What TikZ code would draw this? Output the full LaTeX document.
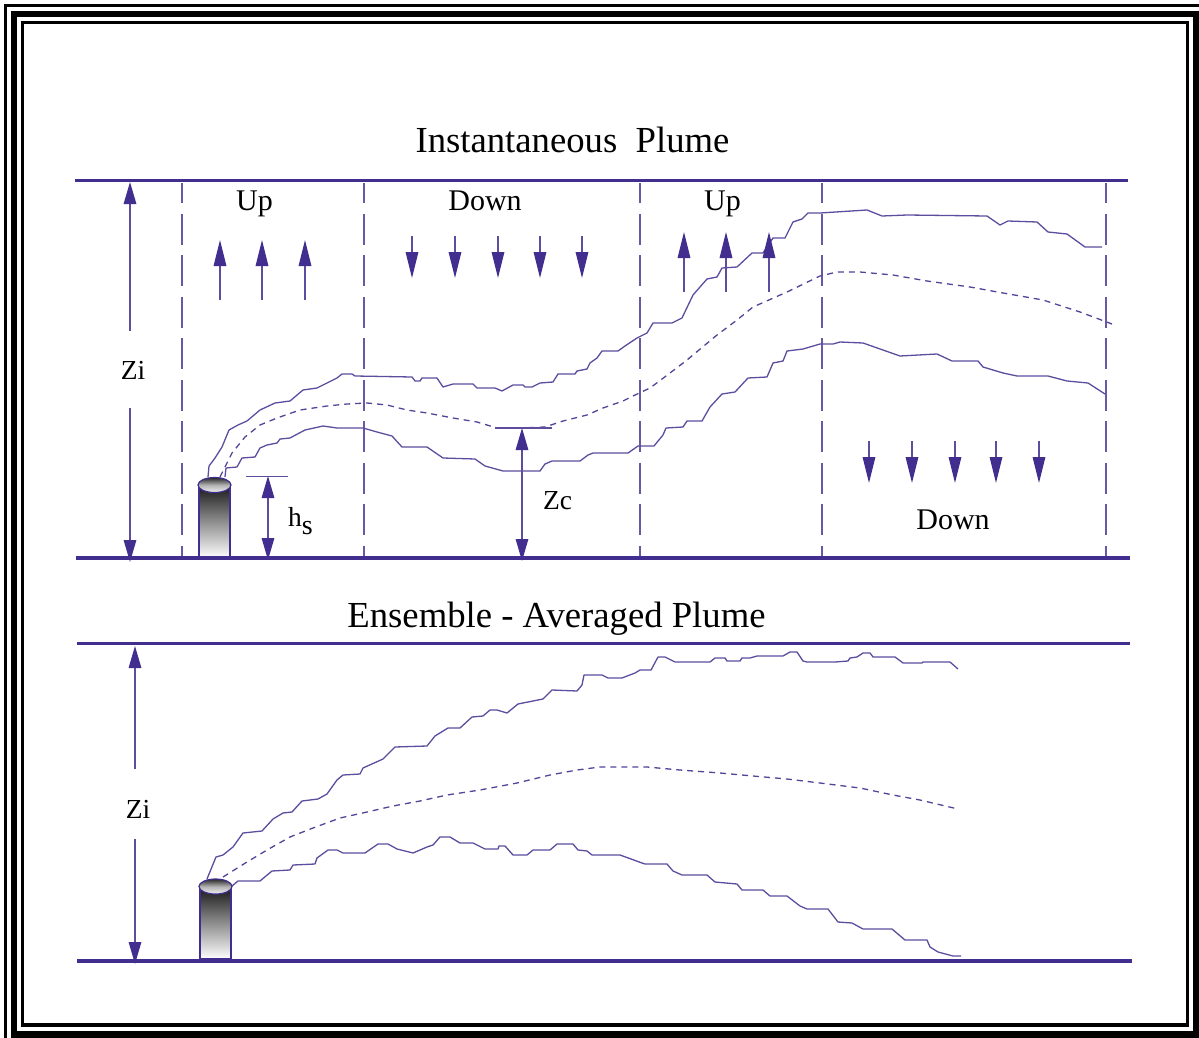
\documentclass[tikz,border=0pt]{standalone}
\usepackage{fontspec}
\setmainfont{Liberation Serif}
\usepackage{tikz}
\usetikzlibrary{arrows.meta,shapes.geometric}
\definecolor{plume}{RGB}{66,46,142}
\tikzset{
    frameline/.style={draw=black,line cap=butt},
    ground/.style={draw=plume,line width=4pt},
    ceiling/.style={draw=plume,line width=2.4pt},
    cell/.style={draw=plume!80,line width=1.4pt,dash pattern=on 31pt off 10.5pt,dash phase=11pt},
    edgeline/.style={draw=plume!85,line width=1.3pt,line join=round},
    midline/.style={draw=plume!90,line width=1.3pt,dash pattern=on 6pt off 5pt,line join=round},
    tick/.style={draw=plume!85,line width=1.2pt},
    windarrow/.style={draw=plume!85,line width=1.4pt,-{Triangle[width=12.5pt,length=26pt,color=plume]}},
    sizearrow/.style={draw=plume!85,line width=1.4pt,-{Triangle[width=12.5pt,length=22pt,color=plume]}},
    bothways/.style={draw=plume!85,line width=1.4pt,{Triangle[width=12.5pt,length=22pt,color=plume]}-{Triangle[width=12.5pt,length=22pt,color=plume]}},
    title/.style={font=\fontsize{36.7}{40}\selectfont,anchor=base,inner sep=0pt},
    word/.style={font=\fontsize{30}{34}\selectfont,anchor=base,inner sep=0pt},
    size/.style={font=\fontsize{27.5}{30}\selectfont,anchor=base,inner sep=0pt},
    stackbody/.style={draw=plume,line width=1.2pt,top color=black!92,bottom color=white,middle color=black!45},
    stacktop/.style={draw=plume,line width=1.2pt,top color=black!85,bottom color=black!5,middle color=black!30}
}

\begin{document}
\begin{tikzpicture}[x=1pt,y=-1pt]
        \useasboundingbox (0,0) rectangle (1199,1038);
        \fill[white] (0,0) rectangle (1199,1038);

        % frame
        \draw[frameline,line width=3pt] (5.5,1038) -- (5.5,5.5) -- (1199,5.5);
        \draw[frameline,line width=6.5pt] (14,1034.5) -- (14,14) -- (1196,14) -- (1196,1034.5) -- cycle;
        \draw[frameline,line width=3.4pt] (22.5,1025) -- (22.5,22.5) -- (1187.7,22.5) -- (1187.7,1025) -- cycle;

        % titles
        \node[title] (inst) at (572.5,153) {Instantaneous\ \ Plume};
        \node[title] (ens) at (556.5,627) {Ensemble - Averaged Plume};

        % upper panel
        \coordinate (c1a) at (182,183);
        \coordinate (c1b) at (182,557);
        \coordinate (c2a) at (364,183);
        \coordinate (c2b) at (364,557);
        \coordinate (c3a) at (640,183);
        \coordinate (c3b) at (640,557);
        \coordinate (c4a) at (822,183);
        \coordinate (c4b) at (822,557);
        \coordinate (c5a) at (1106,183);
        \coordinate (c5b) at (1106,557);
        \draw[cell] (c1a) -- (c1b);
        \draw[cell] (c2a) -- (c2b);
        \draw[cell] (c3a) -- (c3b);
        \draw[cell] (c4a) -- (c4b);
        \draw[cell] (c5a) -- (c5b);

        \draw[edgeline] (208,477) -- (209,466) -- (215,458) -- (222,447) -- (229,430) -- (238,425) -- (247,421) -- (260,410) -- (275,403) -- (290,401) -- (303,390) -- (317,388) -- (337,378) -- (342,374) -- (352,374) -- (355,376) -- (412,377) -- (415,381) -- (420,381) -- (422,378) -- (437,378) -- (443,387) -- (453,384) -- (473,384) -- (477,388) -- (495,388) -- (502,391) -- (513,385) -- (523,385) -- (525,387) -- (532,387) -- (540,383) -- (553,382) -- (558,374) -- (575,374) -- (577,371) -- (587,369) -- (590,363) -- (597,358) -- (602,351) -- (618,351) -- (625,346) -- (637,338) -- (647,333) -- (653,323) -- (672,323) -- (682,318) -- (693,295) -- (707,279) -- (717,277) -- (722,268) -- (737,267) -- (752,253) -- (763,253) -- (773,238) -- (785,238) -- (793,222) -- (802,219) -- (808,213) -- (820,213) -- (867,210) -- (882,216) -- (907,215) -- (987,216) -- (1000,225) -- (1008,221) -- (1037,222) -- (1048,232) -- (1067,234) -- (1085,247) -- (1102,247);
        \draw[midline] (220,477) -- (225,467) -- (232,453) -- (245,437) -- (260,425) -- (277,418) -- (300,410) -- (327,406) -- (347,404) -- (367,403) -- (387,405) -- (407,410) -- (427,413) -- (453,418) -- (477,422) -- (497,428) -- (520,428) -- (545,427) -- (563,421) -- (587,415) -- (603,408) -- (623,401) -- (633,396) -- (650,388) -- (670,373) -- (687,360) -- (717,335) -- (737,320) -- (753,307) -- (787,292) -- (820,276) -- (837,272) -- (860,272) -- (893,275) -- (927,281) -- (970,287) -- (1003,293) -- (1043,300) -- (1080,312) -- (1112,324);
        \draw[edgeline] (225,477) -- (226,468) -- (237,467) -- (242,458) -- (255,457) -- (260,448) -- (267,445) -- (277,443) -- (280,439) -- (290,438) -- (305,430) -- (323,426) -- (337,428) -- (363,428) -- (377,432) -- (392,436) -- (402,447) -- (427,447) -- (443,458) -- (475,459) -- (485,466) -- (503,471) -- (540,471) -- (545,464) -- (552,461) -- (580,461) -- (588,455) -- (593,453) -- (628,453) -- (638,446) -- (654,446) -- (663,435) -- (666,428) -- (683,427) -- (687,421) -- (702,421) -- (710,407) -- (722,394) -- (735,392) -- (748,378) -- (767,377) -- (773,363) -- (783,361) -- (787,351) -- (803,349) -- (820,344) -- (833,344) -- (840,342) -- (863,343) -- (900,356) -- (937,354) -- (952,361) -- (978,361) -- (983,367) -- (1003,373) -- (1017,376) -- (1048,376) -- (1067,381) -- (1088,383) -- (1105,394);

        % upper stack
        \node[stackbody,inner sep=0pt,minimum width=31pt,minimum height=74pt] (stack1) at (214.5,521) {};
        \node[stacktop,ellipse,inner sep=0pt,minimum width=33pt,minimum height=15pt] (rim1) at (214.5,485) {};

        \draw[ceiling] (75,180.5) -- (1128,180.5);
        \draw[ground] (76,558) -- (1130,558);

        % up and down cells
        \node[word] (up1) at (254.5,210) {Up};
        \node[word] (down1) at (485,210) {Down};
        \node[word] (up2) at (722.5,210) {Up};
        \node[word] (down2) at (953,529) {Down};
        \coordinate (ua1) at (220,300);
        \coordinate (ub1) at (220,240);
        \coordinate (ua2) at (262,300);
        \coordinate (ub2) at (262,240);
        \coordinate (ua3) at (305,300);
        \coordinate (ub3) at (305,240);
        \draw[windarrow] (ua1) -- (ub1);
        \draw[windarrow] (ua2) -- (ub2);
        \draw[windarrow] (ua3) -- (ub3);
        \coordinate (da1) at (412,236);
        \coordinate (db1) at (412,278);
        \coordinate (da2) at (455,236);
        \coordinate (db2) at (455,278);
        \coordinate (da3) at (498,236);
        \coordinate (db3) at (498,278);
        \coordinate (da4) at (540,236);
        \coordinate (db4) at (540,278);
        \coordinate (da5) at (582,236);
        \coordinate (db5) at (582,278);
        \draw[windarrow] (da1) -- (db1);
        \draw[windarrow] (da2) -- (db2);
        \draw[windarrow] (da3) -- (db3);
        \draw[windarrow] (da4) -- (db4);
        \draw[windarrow] (da5) -- (db5);
        \coordinate (ua4) at (684,292);
        \coordinate (ub4) at (684,232);
        \coordinate (ua5) at (726,292);
        \coordinate (ub5) at (726,232);
        \coordinate (ua6) at (769,292);
        \coordinate (ub6) at (769,232);
        \draw[windarrow] (ua4) -- (ub4);
        \draw[windarrow] (ua5) -- (ub5);
        \draw[windarrow] (ua6) -- (ub6);
        \coordinate (da6) at (869,441);
        \coordinate (db6) at (869,483);
        \coordinate (da7) at (912,441);
        \coordinate (db7) at (912,483);
        \coordinate (da8) at (955,441);
        \coordinate (db8) at (955,483);
        \coordinate (da9) at (996,441);
        \coordinate (db9) at (996,483);
        \coordinate (da10) at (1039,441);
        \coordinate (db10) at (1039,483);
        \draw[windarrow] (da6) -- (db6);
        \draw[windarrow] (da7) -- (db7);
        \draw[windarrow] (da8) -- (db8);
        \draw[windarrow] (da9) -- (db9);
        \draw[windarrow] (da10) -- (db10);

        % heights
        \node[size] (zi1) at (133,379) {Zi};
        \coordinate (zi1a) at (130,331);
        \coordinate (zi1b) at (130,182);
        \coordinate (zi1c) at (130,408);
        \coordinate (zi1d) at (130,562);
        \draw[sizearrow] (zi1a) -- (zi1b);
        \draw[sizearrow] (zi1c) -- (zi1d);
        \node[size] (hs) at (300.5,526) {h\raisebox{-8pt}{\fontsize{28}{30}\selectfont s}};
        \coordinate (hsa) at (246,476.5);
        \coordinate (hsb) at (288,476.5);
        \coordinate (hsc) at (268,476);
        \coordinate (hsd) at (268,560);
        \draw[tick] (hsa) -- (hsb);
        \draw[bothways] (hsc) -- (hsd);
        \node[size] (zc) at (557.5,509) {Zc};
        \coordinate (zca) at (495,428);
        \coordinate (zcb) at (552,428);
        \coordinate (zcc) at (522,428);
        \coordinate (zcd) at (522,561);
        \draw[tick] (zca) -- (zcb);
        \draw[bothways] (zcc) -- (zcd);

        % lower panel
        \draw[edgeline] (207,879) -- (216,857) -- (223,855) -- (233,847) -- (243,833) -- (262,831) -- (273,819) -- (283,813) -- (292,812) -- (302,801) -- (318,799) -- (327,794) -- (337,780) -- (343,775) -- (360,774) -- (363,768) -- (383,759) -- (395,747) -- (427,746) -- (435,736) -- (448,728) -- (460,728) -- (472,717) -- (483,716) -- (490,710) -- (497,710) -- (507,713) -- (518,704) -- (543,699) -- (552,690) -- (577,691) -- (582,685) -- (584,675) -- (602,675) -- (608,678) -- (622,678) -- (635,673) -- (640,670) -- (651,670) -- (658,657) -- (665,657) -- (675,662) -- (710,662) -- (715,658) -- (725,658) -- (727,661) -- (740,661) -- (742,658) -- (750,658) -- (757,656) -- (783,656) -- (790,652) -- (797,652) -- (803,661) -- (807,662) -- (835,662) -- (848,661) -- (850,658) -- (857,657) -- (863,653) -- (870,653) -- (873,657) -- (895,657) -- (903,663) -- (922,663) -- (923,662) -- (950,662) -- (958,669);
        \draw[midline] (223,877) -- (247,862) -- (267,850) -- (290,837) -- (313,828) -- (340,818) -- (367,812) -- (393,806) -- (420,801) -- (447,795) -- (480,790) -- (517,783) -- (550,775) -- (577,770) -- (600,767) -- (647,767) -- (680,770) -- (720,773) -- (753,776) -- (787,779) -- (820,783) -- (860,788) -- (893,795) -- (920,800) -- (958,809);
        \draw[edgeline] (232,886) -- (238,881) -- (260,881) -- (272,871) -- (290,870) -- (293,865) -- (315,864) -- (317,858) -- (328,850) -- (337,850) -- (343,853) -- (365,853) -- (378,844) -- (388,844) -- (397,849) -- (413,853) -- (427,847) -- (433,845) -- (440,837) -- (450,837) -- (460,843) -- (473,843) -- (485,849) -- (498,849) -- (499,846) -- (505,846) -- (513,855) -- (527,855) -- (533,850) -- (550,850) -- (557,844) -- (573,844) -- (578,850) -- (587,851) -- (592,855) -- (620,855) -- (642,863) -- (645,864) -- (667,864) -- (673,871) -- (682,875) -- (707,875) -- (715,882) -- (737,884) -- (742,890) -- (763,890) -- (770,896) -- (787,896) -- (800,906) -- (807,909) -- (828,909) -- (838,922) -- (852,923) -- (863,929) -- (892,929) -- (905,940) -- (927,940) -- (930,947) -- (938,952) -- (953,956) -- (961,956);

        % lower stack
        \node[stackbody,inner sep=0pt,minimum width=31pt,minimum height=73pt] (stack2) at (215.5,922.5) {};
        \node[stacktop,ellipse,inner sep=0pt,minimum width=33pt,minimum height=15pt] (rim2) at (215.5,886.5) {};

        \draw[ceiling] (77,643.5) -- (1130,643.5);
        \draw[ground] (77,960.5) -- (1132,960.5);

        \node[size] (zi2) at (138,818) {Zi};
        \coordinate (zi2a) at (135,769);
        \coordinate (zi2b) at (135,646);
        \coordinate (zi2c) at (135,839);
        \coordinate (zi2d) at (135,964);
        \draw[sizearrow] (zi2a) -- (zi2b);
        \draw[sizearrow] (zi2c) -- (zi2d);
\end{tikzpicture}
\end{document}
